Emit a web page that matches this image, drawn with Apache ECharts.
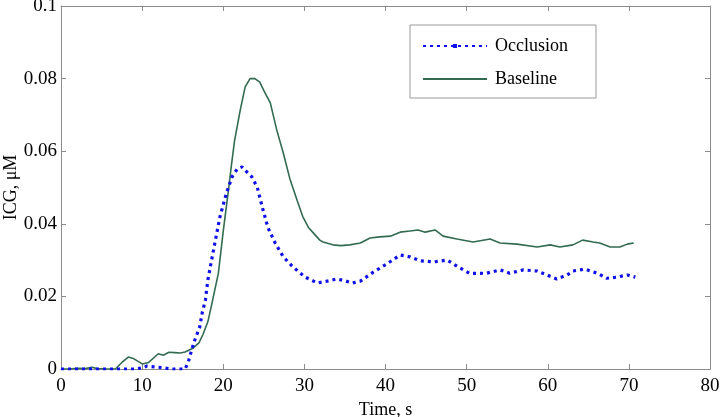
<!DOCTYPE html>
<html>
<head>
<meta charset="utf-8">
<script src="https://cdn.jsdelivr.net/npm/echarts@6/dist/echarts.min.js"></script>
<style>html,body{margin:0;padding:0;background:#fff}#c{width:720px;height:417px}</style>
</head>
<body>
<div id="c"></div>
<script>
var seriesNames = ['Occlusion', 'Baseline'];
var xTicks = [0, 10, 20, 30, 40, 50, 60, 70, 80];
var yTicks = [0, 0.02, 0.04, 0.06, 0.08, 0.1];
var xTitle = 'Time, s';
var yTitle = 'ICG, \u03bcM';

var occlusionTime = [0, 7.5, 9, 10, 10.6, 11.5, 12.4, 13.5, 15.3, 15.7, 16.1, 16.5, 17.1, 17.4, 17.8, 18.1, 18.8, 19.6, 20.4, 21.1, 21.7, 22.3, 22.9, 23.5, 24.2, 24.8, 25.5, 26.4, 27.4, 28.6, 30.1, 31.6, 32.8, 34.0, 35.0, 35.9, 36.9, 38.5, 40.2, 41.8, 43.0, 44.3, 45.9, 47.6, 49.2, 50.4, 52.5, 54.1, 55.3, 57.0, 58.7, 59.9, 61.1, 62.4, 63.1, 64.6, 66.1, 67.3, 68.5, 69.8, 70.8];
var occlusionIcg = [0, 0, 0, 0.0003, 0.0008, 0.0006, 0.0004, 0, 0, 0.002, 0.0052, 0.008, 0.0116, 0.0154, 0.019, 0.0245, 0.0328, 0.042, 0.0485, 0.053, 0.055, 0.0557, 0.0543, 0.053, 0.050, 0.0447, 0.039, 0.0347, 0.0309, 0.0281, 0.0253, 0.0237, 0.0242, 0.0248, 0.0243, 0.0237, 0.0242, 0.0267, 0.029, 0.0314, 0.0309, 0.0298, 0.0295, 0.030, 0.0278, 0.0263, 0.0264, 0.0273, 0.0264, 0.0273, 0.027, 0.0259, 0.0248, 0.0259, 0.027, 0.0275, 0.0264, 0.025, 0.0253, 0.0259, 0.0253];

var baselineTime = [0, 1, 2, 3, 3.8, 4.5, 5.5, 6.7, 7.5, 8.3, 9, 10, 10.8, 12, 12.6, 13.3, 14, 14.7, 15.3, 16.3, 17, 17.5, 18.1, 18.6, 19.4, 20.0, 20.6, 21.0, 21.4, 22.1, 22.7, 23.3, 23.9, 24.5, 25.1, 25.8, 26.6, 27.4, 28.2, 29.1, 29.8, 30.5, 31.1, 31.9, 32.3, 33.5, 34.5, 35.6, 36.9, 38.1, 39.3, 40.6, 41.8, 43.0, 44.0, 44.9, 46.1, 47.1, 48.8, 50.8, 52.9, 54.1, 56.2, 58.7, 60.3, 61.5, 63.1, 64.3, 65.6, 66.4, 67.7, 68.9, 69.8, 70.6];
var baselineIcg = [0, 0, 0.0002, 0.0001, 0.0005, 0.0001, 0, 0, 0.0018, 0.0033, 0.0028, 0.0014, 0.0018, 0.0042, 0.0038, 0.0046, 0.0045, 0.0044, 0.0047, 0.0058, 0.0072, 0.0095, 0.013, 0.018, 0.0264, 0.038, 0.0485, 0.056, 0.063, 0.0714, 0.0777, 0.080, 0.080, 0.079, 0.0763, 0.0733, 0.0658, 0.0595, 0.0525, 0.0465, 0.042, 0.039, 0.0375, 0.0355, 0.035, 0.0342, 0.0340, 0.0342, 0.0347, 0.0361, 0.0364, 0.0366, 0.0377, 0.038, 0.0383, 0.0377, 0.0383, 0.0366, 0.0358, 0.035, 0.0358, 0.0347, 0.0344, 0.0336, 0.0342, 0.0336, 0.0342, 0.0355, 0.035, 0.0347, 0.0336, 0.0336, 0.0344, 0.0347];

function pairs(t, v) { return t.map(function (x, i) { return [x, v[i]]; }); }

var FONT = 'Liberation Serif';
var axisLineStyle = { color: '#8c8c8c', width: 1 };
var xMin = xTicks[0], xMax = xTicks[xTicks.length - 1], xInt = xTicks[1] - xTicks[0];
var yMin = yTicks[0], yMax = yTicks[yTicks.length - 1], yInt = yTicks[1] - yTicks[0];

var chart = echarts.init(document.getElementById('c'), null, { renderer: 'canvas' });
chart.setOption({
  animation: false,
  backgroundColor: '#ffffff',
  grid: { left: 61, right: 10, top: 6, bottom: 48, containLabel: false, outerBoundsMode: 'none' },
  legend: {
    orient: 'vertical',
    left: 410, top: 25,
    padding: [12, 28, 10, 12],
    itemWidth: 64, itemHeight: 5, itemGap: 15,
    backgroundColor: '#ffffff',
    borderColor: '#9a9a9a', borderWidth: 1,
    textStyle: { fontFamily: FONT, fontSize: 18, color: '#000', padding: [0, 0, 0, 3] },
    data: [
      { name: seriesNames[0] },
      { name: seriesNames[1], itemStyle: { opacity: 0 } }
    ]
  },
  xAxis: [{
    type: 'value', min: xMin, max: xMax, interval: xInt, position: 'bottom',
    name: xTitle, nameLocation: 'middle', nameGap: 29,
    nameTextStyle: { fontFamily: FONT, fontSize: 18, color: '#000' },
    axisLine: { show: true, lineStyle: axisLineStyle },
    axisTick: { show: true, inside: true, length: 5, lineStyle: axisLineStyle },
    axisLabel: { fontFamily: FONT, fontSize: 19, color: '#000', margin: 8 },
    splitLine: { show: false }
  }, {
    type: 'value', min: xMin, max: xMax, interval: xInt, position: 'top',
    axisLine: { show: true, onZero: false, lineStyle: axisLineStyle },
    axisTick: { show: true, inside: true, length: 5, lineStyle: axisLineStyle },
    axisLabel: { show: false }, splitLine: { show: false }
  }],
  yAxis: [{
    type: 'value', min: yMin, max: yMax, interval: yInt, position: 'left',
    name: yTitle, nameLocation: 'middle', nameGap: 41, nameRotate: 90, nameMoveOverlap: false,
    nameTextStyle: { fontFamily: FONT, fontSize: 18, color: '#000' },
    axisLine: { show: true, lineStyle: axisLineStyle },
    axisTick: { show: true, inside: true, length: 5, lineStyle: axisLineStyle },
    axisLabel: { fontFamily: FONT, fontSize: 19, color: '#000', margin: 4 },
    splitLine: { show: false }
  }, {
    type: 'value', min: yMin, max: yMax, interval: yInt, position: 'right',
    axisLine: { show: true, onZero: false, lineStyle: axisLineStyle },
    axisTick: { show: true, inside: true, length: 5, lineStyle: axisLineStyle },
    axisLabel: { show: false }, splitLine: { show: false }
  }],
  series: [{
    name: seriesNames[0], type: 'line', xAxisIndex: 0, yAxisIndex: 0,
    data: pairs(occlusionTime, occlusionIcg),
    symbol: 'rect', symbolSize: 4, showSymbol: false,
    itemStyle: { color: '#1010e8' },
    lineStyle: { color: '#1010e8', width: 3.2, type: [3, 4], cap: 'butt' },
    z: 3
  }, {
    name: seriesNames[1], type: 'line', xAxisIndex: 0, yAxisIndex: 0,
    data: pairs(baselineTime, baselineIcg),
    symbol: 'none',
    itemStyle: { color: '#336b52' },
    lineStyle: { color: '#336b52', width: 1.6 },
    z: 2
  }]
});
</script>
</body>
</html>
